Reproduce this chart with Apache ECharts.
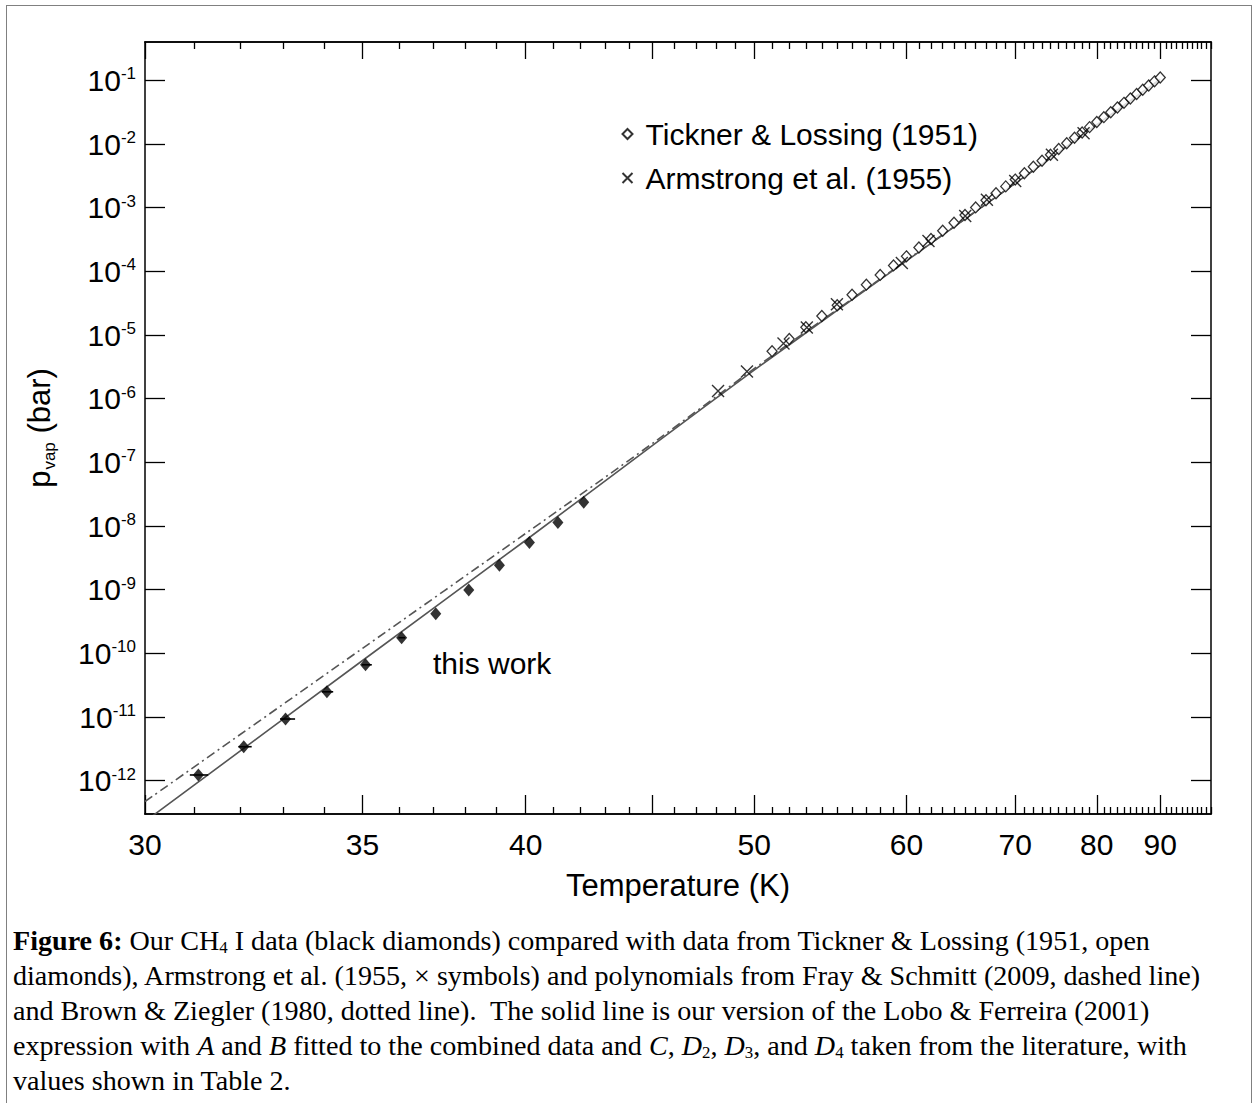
<!DOCTYPE html>
<html><head><meta charset="utf-8">
<script src="https://cdn.jsdelivr.net/npm/echarts@6/dist/echarts.min.js"></script>
<style>
html,body{margin:0;padding:0;background:#fff;width:1253px;height:1103px;overflow:hidden;}
#frame{position:absolute;left:6px;top:5px;width:1246px;height:1120px;border:1.5px solid #808080;box-sizing:border-box;}
#chart{position:absolute;left:0;top:0;width:1253px;height:915px;}
#caption{position:absolute;left:13px;top:923px;font-family:'Liberation Serif',serif;font-size:28.1px;line-height:35px;color:#000;white-space:nowrap;}
#caption sub{font-size:60%;line-height:0;vertical-align:-0.15em;}
</style></head>
<body>
<div id="frame"></div>
<div id="chart"></div>
<div id="caption">
<div><b>Figure 6:</b> Our CH<sub>4</sub> I data (black diamonds) compared with data from Tickner &amp; Lossing (1951, open</div>
<div>diamonds), Armstrong et al. (1955, × symbols) and polynomials from Fray &amp; Schmitt (2009, dashed line)</div>
<div>and Brown &amp; Ziegler (1980, dotted line).&nbsp; The solid line is our version of the Lobo &amp; Ferreira (2001)</div>
<div>expression with <i>A</i> and <i>B</i> fitted to the combined data and <i>C</i>, <i>D</i><sub>2</sub>, <i>D</i><sub>3</sub>, and <i>D</i><sub>4</sub> taken from the literature, with</div>
<div>values shown in Table 2.</div>
</div>
<script>
// ---- data (temperature in K, pressure in bar) ----
const thisWorkT = [31.09, 32.08, 33.05, 34.07, 35.08, 36.08, 37.08, 38.10, 39.10, 40.13, 41.16, 42.14];
const thisWorkP = [1.23e-12, 3.42e-12, 9.31e-12, 2.49e-11, 6.62e-11, 1.76e-10, 4.19e-10, 9.86e-10, 2.43e-9, 5.53e-9, 1.14e-8, 2.37e-8];
const thisWorkTLow  = [30.91, 31.96, 32.92, 33.94, 34.98, 35.99];
const thisWorkTHigh = [31.30, 32.26, 33.28, 34.23, 35.25, 36.18];

const ticknerT = [51,52,53,54,55,56,57,58,59,60,61,62,63,64,65,66,67,68,69,70,71,72,73,74,75,76,77,78,79,80,81,82,83,84,85,86,87,88,89,90];
const ticknerP = [5.58e-6, 8.67e-6, 1.32e-5, 1.99e-5, 2.94e-5, 4.30e-5, 6.18e-5, 8.79e-5, 1.24e-4, 1.72e-4,
                  2.37e-4, 3.22e-4, 4.34e-4, 5.78e-4, 7.66e-4, 1.01e-3, 1.31e-3, 1.69e-3, 2.16e-3, 2.76e-3,
                  3.48e-3, 4.38e-3, 5.47e-3, 6.78e-3, 8.36e-3, 1.03e-2, 1.25e-2, 1.52e-2, 1.84e-2, 2.21e-2,
                  2.64e-2, 3.15e-2, 3.74e-2, 4.43e-2, 5.20e-2, 6.11e-2, 7.13e-2, 8.32e-2, 9.64e-2, 0.111];

const armstrongT = [48.10, 49.61, 51.66, 53.06, 54.98, 59.64, 61.79, 65.02, 67.09, 70.0, 74.17, 78.19];
const armstrongP = [1.32e-6, 2.67e-6, 7.36e-6, 1.31e-5, 3.05e-5, 1.35e-4, 3.00e-4, 7.41e-4, 1.33e-3, 2.63e-3, 6.76e-3, 1.48e-2];

const fitT = [30, 35, 40, 45, 50, 55, 60, 70, 80, 90];
const fitP = [2.29e-13, 7.73e-11, 5.98e-9, 1.85e-7, 2.80e-6, 2.43e-5, 1.46e-4, 2.41e-3, 2.01e-2, 0.1038];

const frayT = [30, 35, 40, 45, 50, 55, 60, 70, 80, 90];
const frayP = [4.71e-13, 1.20e-10, 7.67e-9, 1.99e-7, 2.96e-6, 2.52e-5, 1.49e-4, 2.41e-3, 2.01e-2, 0.1038];

// ---- axes ticks ----
const majorTickT = [30, 35, 40, 45, 50, 60, 70, 80, 90];
const labelT = [30, 35, 40, 50, 60, 70, 80, 90];
const minorTickT = [];
for (let t = 31; t <= 100; t++) if (majorTickT.indexOf(t) < 0) minorTickT.push(t);
const decadeExp = [-12, -11, -10, -9, -8, -7, -6, -5, -4, -3, -2, -1];

const X_MIN = 10, X_MAX = 1000 / 30;       // axis in 1000/T, reversed
const Y_MIN = Math.log10(3e-13), Y_MAX = Math.log10(0.4);

const inv = t => 1000 / t;
const pts = (T, P) => T.map((t, i) => [inv(t), Math.log10(P[i])]);

const FONT = 'Liberation Sans';
const black = '#000';

function xAx(pos, ticks, len, withLabel) {
  const a = {
    type: 'value', gridIndex: 0, position: pos, min: X_MIN, max: X_MAX, inverse: true,
    axisLine: { show: true, onZero: false, lineStyle: { color: black, width: 1.5 } },
    axisTick: { show: true, inside: true, length: len, customValues: ticks.map(inv), lineStyle: { color: black, width: 1.3 } },
    axisLabel: { show: false },
    splitLine: { show: false }
  };
  if (withLabel) {
    a.axisLabel = {
      show: true, customValues: labelT.map(inv), margin: 15,
      formatter: v => String(Math.round(1000 / v)),
      fontSize: 30, fontFamily: FONT, color: black
    };
    a.name = 'Temperature (K)';
    a.nameLocation = 'middle';
    a.nameGap = 56;
    a.nameTextStyle = { fontSize: 31, fontFamily: FONT, color: black };
  }
  return a;
}
function yAx(pos, withLabel) {
  const a = {
    type: 'value', gridIndex: 0, position: pos, min: Y_MIN, max: Y_MAX,
    axisLine: { show: true, onZero: false, lineStyle: { color: black, width: 1.5 } },
    axisTick: { show: true, inside: true, length: 20, customValues: decadeExp, lineStyle: { color: black, width: 1.3 } },
    axisLabel: { show: false },
    splitLine: { show: false }
  };
  if (withLabel) {
    a.axisLabel = {
      show: true, customValues: decadeExp, margin: 9,
      formatter: v => '{b|10}{s|' + Math.round(v) + '}',
      rich: {
        b: { fontSize: 30, lineHeight: 30, fontFamily: FONT, color: black, verticalAlign: 'top' },
        s: { fontSize: 17, lineHeight: 17, fontFamily: FONT, color: black, verticalAlign: 'top' }
      }
    };
    a.name = '{a|p}{b|vap}{a| (bar)}';
    a.nameLocation = 'middle';
    a.nameRotate = 90;
    a.nameGap = 90;
    a.nameTextStyle = {
      rich: {
        a: { fontSize: 31, lineHeight: 31, fontFamily: FONT, color: black, verticalAlign: 'top' },
        b: { fontSize: 17, lineHeight: 17, fontFamily: FONT, color: black, verticalAlign: 'top', padding: [17, 0, 0, 1] }
      }
    };
  }
  return a;
}

const chart = echarts.init(document.getElementById('chart'), null, { renderer: 'svg' });
chart.setOption({
  animation: false,
  backgroundColor: 'transparent',
  grid: { left: 145, top: 42, width: 1066, height: 772, containLabel: false },
  xAxis: [
    xAx('bottom', majorTickT, 19, true),
    xAx('bottom', minorTickT, 7, false),
    xAx('top', majorTickT, 17, false),
    xAx('top', minorTickT, 7, false)
  ],
  yAxis: [yAx('left', true), yAx('right', false)],
  legend: {
    orient: 'vertical', left: 615, top: 114, itemGap: 14,
    itemWidth: 10, itemHeight: 10,
    data: ['Tickner & Lossing (1951)', 'Armstrong et al. (1955)'],
    textStyle: { fontSize: 30, fontFamily: FONT, color: black, padding: [0, 0, 0, 8] },
    selectedMode: false
  },
  graphic: [{
    type: 'text', left: 433, top: 648,
    style: { text: 'this work', font: '30px "Liberation Sans"', fill: black }
  }],
  series: [
    {
      name: 'Lobo & Ferreira fit', type: 'line', data: pts(fitT, fitP), showSymbol: false, symbol: 'none',
      smooth: 0.3,
      lineStyle: { color: '#555', width: 1.6 }, z: 2, silent: true, clip: true
    },
    {
      name: 'Fray & Schmitt (2009)', type: 'line', data: pts(frayT, frayP), showSymbol: false, symbol: 'none',
      smooth: 0.3,
      lineStyle: { color: '#555', width: 1.6, type: [9, 4, 2, 4] }, z: 2, silent: true, clip: true
    },
    {
      name: 'this work T error', type: 'custom',
      data: thisWorkTLow.map((t, i) => [inv(t), inv(thisWorkTHigh[i]), Math.log10(thisWorkP[i])]),
      encode: { x: [0, 1], y: 2 },
      renderItem: (params, api) => {
        const a = api.coord([api.value(0), api.value(2)]);
        const b = api.coord([api.value(1), api.value(2)]);
        return { type: 'line', shape: { x1: a[0], y1: a[1], x2: b[0], y2: b[1] }, style: { stroke: black, lineWidth: 1.6 } };
      },
      z: 3, silent: true
    },
    {
      name: 'this work', type: 'scatter', data: pts(thisWorkT, thisWorkP),
      symbol: 'diamond', symbolSize: [11, 13], itemStyle: { color: black }, z: 4
    },
    {
      name: 'Tickner & Lossing (1951)', type: 'scatter', data: pts(ticknerT, ticknerP),
      symbol: 'diamond', symbolSize: [10, 11],
      itemStyle: { color: '#fff', borderColor: black, borderWidth: 1.3 }, z: 5
    },
    {
      name: 'Armstrong et al. (1955)', type: 'scatter', data: pts(armstrongT, armstrongP),
      symbol: 'path://M0,0L10,10M10,0L0,10', symbolSize: 12,
      itemStyle: { color: 'none', borderColor: black, borderWidth: 1.4 }, z: 6
    }
  ]
});
</script>
</body></html>
